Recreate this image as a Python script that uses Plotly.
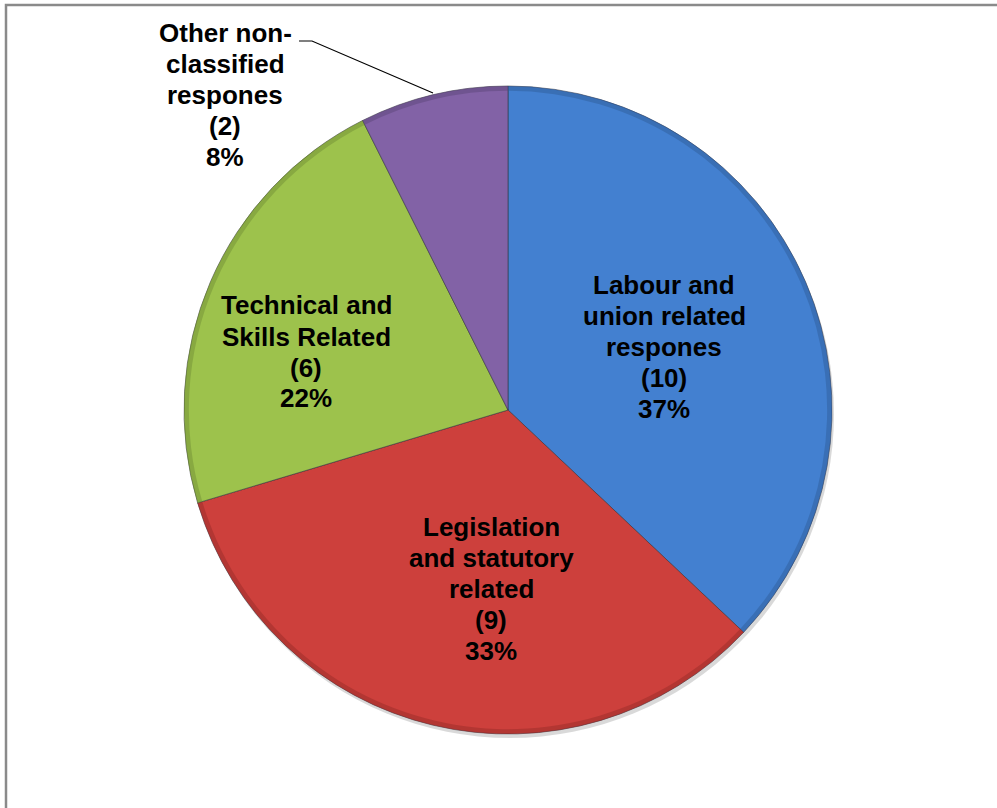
import plotly.graph_objects as go

# Survey response categories and counts
categories = [
    "Labour and<br>union related<br>respones",
    "Legislation<br>and statutory<br>related",
    "Technical and<br>Skills Related",
    "Other non-<br>classified<br>respones",
]
counts = [10, 9, 6, 2]
colors = ["#4380D0", "#CD403C", "#9DC24C", "#8262A6"]
rim_colors = ["#2F5B96", "#952B28", "#6F8C35", "#5A4476"]

W, H = 997, 808
CX, CY, R = 508, 410, 324


def px_x(x):
    return x / W


def px_y(y):
    return 1 - y / H


def rounded_percents(values):
    """Largest-remainder rounding so the percentages add up to 100."""
    total = sum(values)
    raw = [v * 100 / total for v in values]
    floors = [int(r) for r in raw]
    short = 100 - sum(floors)
    order = sorted(range(len(raw)), key=lambda i: raw[i] - floors[i], reverse=True)
    for i in order[:short]:
        floors[i] += 1
    return floors


pcts = rounded_percents(counts)

dom = dict(x=[px_x(CX - R), px_x(CX + R)], y=[px_y(CY + R), px_y(CY - R)])
shadow_dom = dict(x=[px_x(CX - R + 2), px_x(CX + R + 2)], y=[px_y(CY + R + 4), px_y(CY - R + 4)])

fig = go.Figure()

# soft drop shadow behind the pie
fig.add_trace(go.Pie(
    values=[1], domain=shadow_dom, sort=False, textinfo="none", hoverinfo="skip",
    marker=dict(colors=["rgba(0,0,0,0.15)"], line=dict(width=0)), showlegend=False,
))

# main pie
fig.add_trace(go.Pie(
    labels=categories, values=counts, domain=dom, sort=False, direction="clockwise",
    rotation=0, textinfo="none", hoverinfo="skip", showlegend=False,
    marker=dict(colors=colors, line=dict(color="rgba(50,50,60,0.55)", width=1)),
))

# thin darker rim for a bevelled look
fig.add_trace(go.Pie(
    labels=categories, values=counts, domain=dom, sort=False, direction="clockwise",
    rotation=0, hole=0.985, textinfo="none", hoverinfo="skip", showlegend=False,
    marker=dict(colors=rim_colors, line=dict(width=0)),
    opacity=0.45,
))

label_pos = [(664, 347), (491, 589), (306, 352), (225, 95)]
LINE_PITCH = 31
font = dict(family="Liberation Sans, Arial, sans-serif", size=26, color="black")
for name, v, p, (lx, ly) in zip(categories, counts, pcts, label_pos):
    lines = name.split("<br>") + [f"({v})", f"{p}%"]
    top = ly - LINE_PITCH * (len(lines) - 1) / 2
    for k, line in enumerate(lines):
        fig.add_annotation(
            x=px_x(lx), y=px_y(top + k * LINE_PITCH), xref="paper", yref="paper",
            showarrow=False, text=f"<b>{line}</b>", font=font,
            xanchor="center", yanchor="middle",
        )

# leader line for the small slice, chart frame
fig.add_shape(type="path", xref="paper", yref="paper",
              path=f"M {px_x(433)} {px_y(93)} L {px_x(312)} {px_y(41)} L {px_x(299)} {px_y(41)}",
              line=dict(color="black", width=1.2))
fig.add_shape(type="rect", xref="paper", yref="paper",
              x0=px_x(6), y0=px_y(5), x1=px_x(1010), y1=px_y(830),
              line=dict(color="#8A8A8A", width=2.5), fillcolor="rgba(0,0,0,0)")

fig.update_layout(
    width=W, height=H, margin=dict(l=0, r=0, t=0, b=0),
    paper_bgcolor="white", plot_bgcolor="white",
)

fig.write_html("out.html")
